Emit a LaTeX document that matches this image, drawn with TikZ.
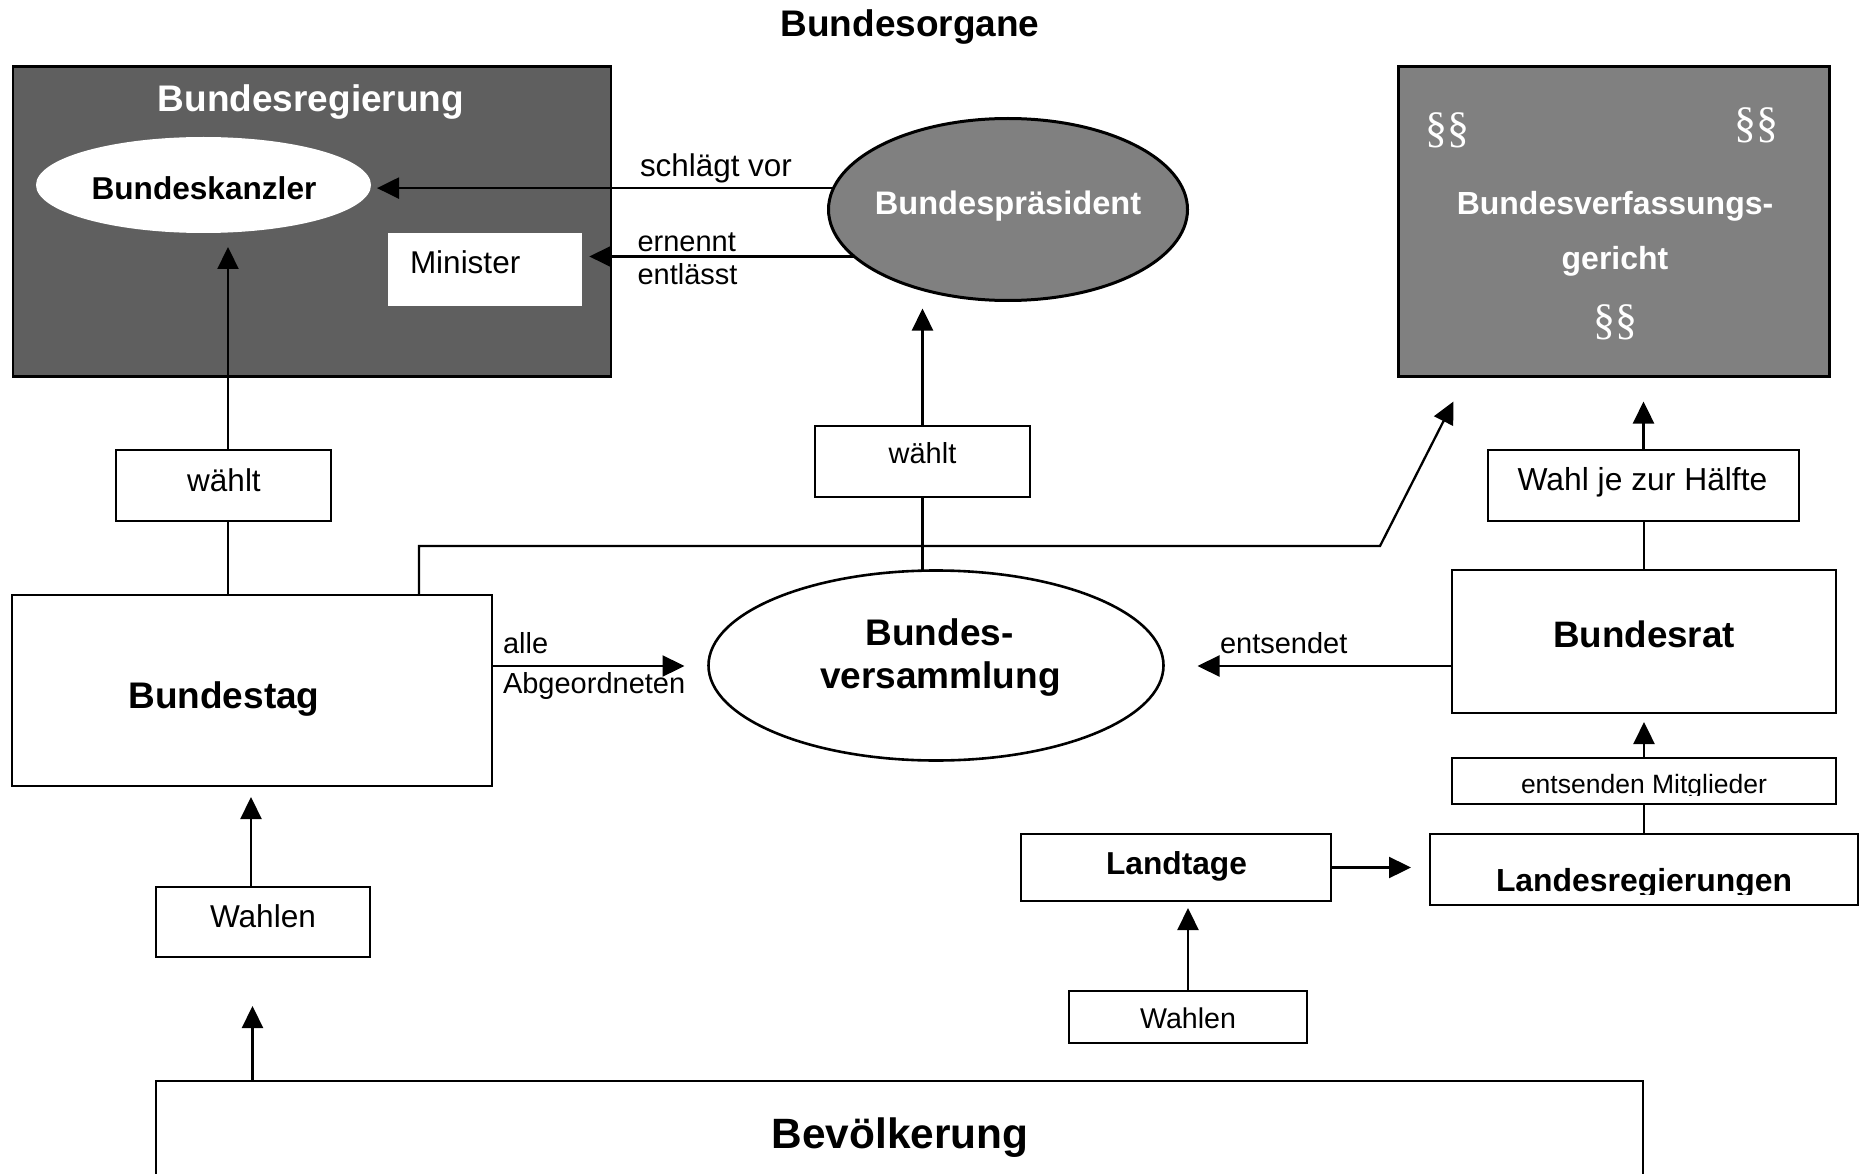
\documentclass[tikz,border=0pt]{standalone}
\usepackage{fontspec}
\setmainfont{Liberation Sans}
\newfontfamily\paraserif{Liberation Serif}
\usetikzlibrary{shapes.geometric,arrows.meta,calc}
\newcommand\fsz[1]{\fontsize{#1}{#1}\selectfont}
\definecolor{govgray}{HTML}{5F5F5F}
\definecolor{midgray}{HTML}{808080}
\begin{document}
\begin{tikzpicture}[x=1pt,y=-1pt,
  box/.style={draw, line width=2.8pt, inner sep=0pt, outer sep=0pt},
  plain/.style={inner sep=0pt, outer sep=0pt},
  lbl/.style={inner sep=0pt, outer sep=0pt, anchor=base},
  lblw/.style={inner sep=0pt, outer sep=0pt, anchor=base west},
  con/.style={line width=2.3pt},
  arr/.style={line width=2.3pt, -{Triangle[length=22pt,width=21pt]}}]
\useasboundingbox (0,0) rectangle (1860,1174);
\clip (0,0) rectangle (1860,1174);
\fill[white] (0,0) rectangle (1860,1174);

% title
\node[lbl, font=\bfseries\fsz{37}] (title) at (910,37) {Bundesorgane};

% Bundesregierung
\node[box, fill=govgray, minimum width=598, minimum height=310] (breg) at (312,221.5) {};
\node[lbl, text=white, font=\bfseries\fsz{37}] (tbreg) at (311,112) {Bundesregierung};
\node[plain, ellipse, fill=white, minimum width=335, minimum height=96] (bk) at (203.5,185) {};
\node[lbl, font=\bfseries\fsz{31.6}] (tbk) at (204,200) {Bundeskanzler};
\node[plain, fill=white, minimum width=194, minimum height=73] (min) at (485.3,269.5) {};
\node[lblw, font=\fsz{31.5}] (tmin) at (410,273) {Minister};

% Bundespraesident
\node[plain, ellipse, draw, line width=3pt, fill=midgray, minimum width=359, minimum height=182] (bp) at (1008,209.5) {};
\node[lbl, text=white, font=\bfseries\fsz{32.6}] (tbp) at (1008,215) {Bundespräsident};

% Bundesverfassungsgericht
\node[box, fill=midgray, minimum width=431, minimum height=310] (bvg) at (1614,221.5) {};
\node[plain, text=white, font=\paraserif\fsz{44}] (pa) at (1447,130) {§§};
\node[plain, text=white, font=\paraserif\fsz{44}] (pb) at (1756,125) {§§};
\node[plain, text=white, font=\paraserif\fsz{44}] (pc) at (1615,322) {§§};
\node[lbl, text=white, font=\bfseries\fsz{32}] (tbvg1) at (1615,215) {Bundesverfassungs-};
\node[lbl, text=white, font=\bfseries\fsz{32}] (tbvg2) at (1615,270) {gericht};

% waehlt boxes
\node[box, minimum width=215, minimum height=71] (wahl1) at (223.5,485.5) {};
\node[lbl, font=\fsz{31.5}] (twahl1) at (224,491) {wählt};
\node[box, minimum width=215, minimum height=71] (wahl2) at (922.5,461.5) {};
\node[lbl, font=\fsz{29}] (twahl2) at (922.5,463) {wählt};
\node[box, minimum width=311, minimum height=71] (wahl3) at (1643.5,485.5) {};
\node[lbl, font=\fsz{31.8}] (twahl3) at (1642.5,490) {Wahl je zur Hälfte};

% Bundestag
\node[box, minimum width=480, minimum height=191] (btag) at (252,690.5) {};
\node[lbl, font=\bfseries\fsz{37}] (tbtag) at (224,708) {Bundestag};

% Bundesversammlung
\node[plain, ellipse, draw, line width=2.6pt, fill=white, minimum width=455, minimum height=190] (bv) at (936,665.5) {};
\node[lbl, font=\bfseries\fsz{37}] (tbv1) at (939.5,645) {Bundes-};
\node[lbl, font=\bfseries\fsz{37}] (tbv2) at (940.5,688) {versammlung};

% Bundesrat and Laender
\node[box, minimum width=384, minimum height=143] (br) at (1644,641.5) {};
\node[lbl, font=\bfseries\fsz{36.8}] (tbr) at (1644,647) {Bundesrat};
\node[box, minimum width=384, minimum height=46] (ent) at (1644,781) {};
\node[box, minimum width=428, minimum height=71] (lreg) at (1644,869.5) {};
\begin{scope}
  \clip (1440,700) rectangle (1850,795.5);
  \node[lbl, font=\fsz{26.5}] (tent) at (1644,793) {entsenden Mitglieder};
\end{scope}
\begin{scope}
  \clip (1430,840) rectangle (1858,894);
  \node[lbl, font=\bfseries\fsz{31.9}] (tlreg) at (1644,891) {Landesregierungen};
\end{scope}
\node[box, minimum width=310, minimum height=67] (lt) at (1176,867.5) {};
\node[lbl, font=\bfseries\fsz{31.7}] (tlt) at (1176.5,874) {Landtage};
\node[box, minimum width=238, minimum height=52] (wahl4) at (1188,1017) {};
\node[lbl, font=\fsz{28.6}] (twahl4) at (1188,1028) {Wahlen};

% Wahlen and Bevoelkerung
\node[box, minimum width=214, minimum height=70] (wahl5) at (263,922) {};
\node[lbl, font=\fsz{31.6}] (twahl5) at (263,927) {Wahlen};
\node[box, minimum width=1487, minimum height=200] (bev) at (899.5,1181) {};
\node[lbl, font=\bfseries\fsz{42.4}] (tbev) at (900,1148) {Bevölkerung};

% edge labels
\node[lblw, font=\fsz{31.4}] (lsv) at (640,177) {schlägt vor};
\node[lblw, font=\fsz{29}] (ler) at (637.5,252) {ernennt};
\node[lblw, font=\fsz{29}] (lel) at (637.5,285) {entlässt};
\node[lblw, font=\fsz{29}] (lal) at (503,653) {alle};
\node[lblw, font=\fsz{29}] (lab) at (503,693) {Abgeordneten};
\node[lblw, font=\fsz{29}] (les) at (1220,653) {entsendet};

% connectors
\coordinate (q0) at ([xshift=-24pt]btag.north);
\draw[con] (q0) -- (q0 |- wahl1.south);
\coordinate (q1) at ([xshift=4.5pt]wahl1.north);
\draw[arr, shorten >=14pt] (q1) -- (q1 |- bk.south);

\draw[arr, shorten >=8pt] (wahl2.north) -- (wahl2.north |- bp.south);
\draw[con] (wahl2.south) -- (wahl2.south |- bv.north);

\draw[arr, shorten >=6pt] (bp.173) -- (bp.173 -| bk.east);
\draw[arr, shorten >=7pt] (bp.197) -- (bp.197 -| min.east);

\coordinate (q5) at ([yshift=24.5pt]btag.east);
\draw[arr, shorten >=24pt] (q5) -- (q5 -| bv.west);
\coordinate (q6) at ([yshift=-24.5pt]br.west);
\draw[arr, shorten >=34pt] (q6) -- (q6 -| bv.east);

\coordinate (q13) at ([xshift=167pt]btag.north);
\coordinate (k13) at (1380,546);
\coordinate (tip13) at ([xshift=55pt,yshift=-25pt]bvg.south west);
\draw[arr] (q13) |- (k13) -- (tip13);

\draw[con] (br.north) -- (br.north |- wahl3.south);
\draw[arr, shorten >=25pt] (wahl3.north) -- (wahl3.north |- bvg.south);
\draw[arr, shorten >=9pt] (ent.north) -- (br.south);
\draw[con] (lreg.north) -- (ent.south);
\draw[arr, shorten >=19pt] (lt.east) -- (lt.east -| lreg.west);
\draw[arr, shorten >=7pt] (wahl4.north) -- (wahl4.north |- lt.south);

\coordinate (q11) at ([xshift=-12pt]wahl5.north);
\draw[arr, shorten >=11pt] (q11) -- (q11 |- btag.south);
\coordinate (q12) at ([xshift=96.5pt]bev.north west);
\draw[arr, shorten >=49pt] (q12) -- (q12 |- wahl5.south);
\end{tikzpicture}
\end{document}
